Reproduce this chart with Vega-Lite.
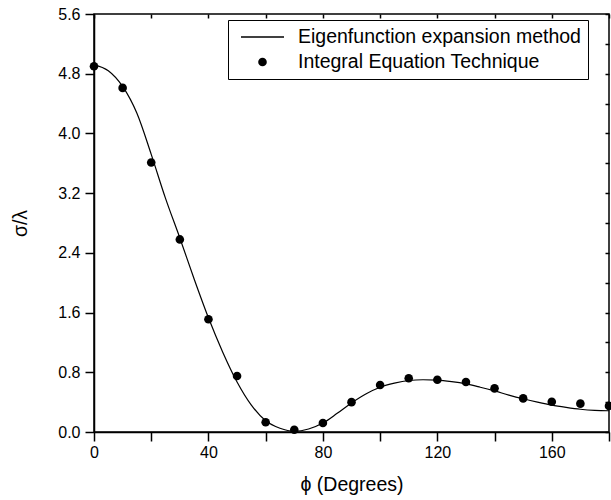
{
  "$schema": "https://vega.github.io/schema/vega-lite/v6.json",
  "width": 515,
  "height": 418,
  "autosize": "none",
  "padding": {"left": 94, "top": 14, "right": 2, "bottom": 68},
  "background": "white",
  "config": {
    "font": "Liberation Sans",
    "view": {"stroke": "black", "strokeWidth": 1.5},
    "axis": {
      "grid": false,
      "domainColor": "black",
      "domainWidth": 1.5,
      "tickColor": "black",
      "tickWidth": 1.5,
      "labelColor": "black",
      "labelFont": "Liberation Sans",
      "labelFontSize": 16,
      "titleFont": "Liberation Sans",
      "titleFontSize": 19.5,
      "titleFontWeight": "normal",
      "titleColor": "black"
    }
  },
  "datasets": {
    "curve": [
      {"phi": 0, "sigma": 4.92}, {"phi": 5, "sigma": 4.84}, {"phi": 10, "sigma": 4.63},
      {"phi": 15, "sigma": 4.27}, {"phi": 20, "sigma": 3.72}, {"phi": 25, "sigma": 3.13},
      {"phi": 30, "sigma": 2.6}, {"phi": 35, "sigma": 2.05}, {"phi": 40, "sigma": 1.53},
      {"phi": 45, "sigma": 1.07}, {"phi": 50, "sigma": 0.67}, {"phi": 55, "sigma": 0.36},
      {"phi": 60, "sigma": 0.15}, {"phi": 65, "sigma": 0.05}, {"phi": 70, "sigma": 0.01},
      {"phi": 75, "sigma": 0.04}, {"phi": 80, "sigma": 0.12}, {"phi": 85, "sigma": 0.25},
      {"phi": 90, "sigma": 0.39}, {"phi": 95, "sigma": 0.51}, {"phi": 100, "sigma": 0.6},
      {"phi": 105, "sigma": 0.655}, {"phi": 110, "sigma": 0.69}, {"phi": 115, "sigma": 0.7},
      {"phi": 120, "sigma": 0.695}, {"phi": 125, "sigma": 0.675}, {"phi": 130, "sigma": 0.645},
      {"phi": 135, "sigma": 0.6}, {"phi": 140, "sigma": 0.55}, {"phi": 145, "sigma": 0.495},
      {"phi": 150, "sigma": 0.445}, {"phi": 155, "sigma": 0.4}, {"phi": 160, "sigma": 0.36},
      {"phi": 165, "sigma": 0.33}, {"phi": 170, "sigma": 0.305}, {"phi": 175, "sigma": 0.29},
      {"phi": 180, "sigma": 0.285}
    ],
    "pts": [
      {"phi": 0, "sigma": 4.9, "series": "Integral Equation Technique"},
      {"phi": 10, "sigma": 4.61, "series": "Integral Equation Technique"},
      {"phi": 20, "sigma": 3.61, "series": "Integral Equation Technique"},
      {"phi": 30, "sigma": 2.58, "series": "Integral Equation Technique"},
      {"phi": 40, "sigma": 1.51, "series": "Integral Equation Technique"},
      {"phi": 50, "sigma": 0.75, "series": "Integral Equation Technique"},
      {"phi": 60, "sigma": 0.13, "series": "Integral Equation Technique"},
      {"phi": 70, "sigma": 0.03, "series": "Integral Equation Technique"},
      {"phi": 80, "sigma": 0.12, "series": "Integral Equation Technique"},
      {"phi": 90, "sigma": 0.4, "series": "Integral Equation Technique"},
      {"phi": 100, "sigma": 0.63, "series": "Integral Equation Technique"},
      {"phi": 110, "sigma": 0.72, "series": "Integral Equation Technique"},
      {"phi": 120, "sigma": 0.7, "series": "Integral Equation Technique"},
      {"phi": 130, "sigma": 0.67, "series": "Integral Equation Technique"},
      {"phi": 140, "sigma": 0.585, "series": "Integral Equation Technique"},
      {"phi": 150, "sigma": 0.45, "series": "Integral Equation Technique"},
      {"phi": 160, "sigma": 0.405, "series": "Integral Equation Technique"},
      {"phi": 170, "sigma": 0.38, "series": "Integral Equation Technique"},
      {"phi": 180, "sigma": 0.35, "series": "Integral Equation Technique"}
    ]
  },
  "layer": [
    {
      "layer": [
        {
          "data": {"name": "curve"},
          "mark": {"type": "line", "color": "black", "strokeWidth": 1.2, "interpolate": "monotone", "clip": true},
          "encoding": {
            "x": {
              "field": "phi", "type": "quantitative",
              "scale": {"domain": [0, 180], "nice": false, "zero": false},
              "axis": {
                "orient": "bottom",
                "title": "ϕ (Degrees)",
                "values": [0, 20, 40, 60, 80, 100, 120, 140, 160, 180],
                "labelExpr": "datum.value % 40 == 0 ? datum.label : ''",
                "labelOverlap": false,
                "labelFlush": false,
                "tickSize": 9,
                "labelPadding": 3,
                "titlePadding": 15,
                "encode": {"ticks": {"update": {"y2": {"signal": "datum.value % 40 == 0 ? 9 : 5"}}}}
              }
            },
            "y": {
              "field": "sigma", "type": "quantitative",
              "scale": {"domain": [0, 5.6], "nice": false, "zero": false},
              "axis": {
                "orient": "left",
                "title": "σ/λ",
                "values": [0, 0.4, 0.8, 1.2, 1.6, 2.0, 2.4, 2.8, 3.2, 3.6, 4.0, 4.4, 4.8, 5.2, 5.6],
                "labelExpr": "round(datum.value * 10) % 8 == 0 ? format(datum.value, '.1f') : ''",
                "labelOverlap": false,
                "labelFlush": false,
                "tickSize": 9,
                "labelPadding": 5,
                "titlePadding": 27,
                "encode": {"ticks": {"update": {"x2": {"signal": "round(datum.value * 10) % 8 == 0 ? -9 : -5"}}}}
              }
            }
          }
        },
        {
          "data": {"name": "pts"},
          "mark": {"type": "point", "filled": true, "color": "black", "opacity": 1},
          "encoding": {
            "x": {"field": "phi", "type": "quantitative"},
            "y": {"field": "sigma", "type": "quantitative"},
            "shape": {
              "field": "series", "type": "nominal",
              "scale": {"domain": ["Eigenfunction expansion method", "Integral Equation Technique"], "range": ["M-1,-0.034H1V0.034H-1Z", "circle"]},
              "legend": {
                "orient": "none", "legendX": 134, "legendY": 6, "title": null,
                "strokeColor": "black", "padding": 7, "rowPadding": 5, "clipHeight": 20,
                "symbolOffset": 5,
                "labelFontSize": 19.5, "labelFont": "Liberation Sans", "labelColor": "black",
                "labelOffset": 13, "labelLimit": 400
              }
            },
            "size": {
              "field": "series", "type": "nominal",
              "scale": {"domain": ["Eigenfunction expansion method", "Integral Equation Technique"], "range": [1850, 74]},
              "legend": {
                "orient": "none", "legendX": 134, "legendY": 6, "title": null,
                "strokeColor": "black", "padding": 7, "rowPadding": 5, "clipHeight": 20,
                "symbolOffset": 5,
                "labelFontSize": 19.5, "labelFont": "Liberation Sans", "labelColor": "black",
                "labelOffset": 13, "labelLimit": 400
              }
            }
          }
        }
      ]
    },
    {
      "data": {"name": "pts"},
      "mark": {"type": "point", "opacity": 0},
      "encoding": {
        "x": {
          "field": "phi", "type": "quantitative",
          "scale": {"domain": [0, 180], "nice": false, "zero": false},
          "axis": {"orient": "top", "title": null, "labels": false, "domain": false,
                   "values": [0, 20, 40, 60, 80, 100, 120, 140, 160, 180], "tickSize": -4}
        },
        "y": {
          "field": "sigma", "type": "quantitative",
          "scale": {"domain": [0, 5.6], "nice": false, "zero": false},
          "axis": {"orient": "right", "title": null, "labels": false, "domain": false,
                   "values": [0, 0.4, 0.8, 1.2, 1.6, 2.0, 2.4, 2.8, 3.2, 3.6, 4.0, 4.4, 4.8, 5.2, 5.6], "tickSize": -4}
        }
      }
    }
  ],
  "resolve": {"scale": {"x": "independent", "y": "independent"}}
}
